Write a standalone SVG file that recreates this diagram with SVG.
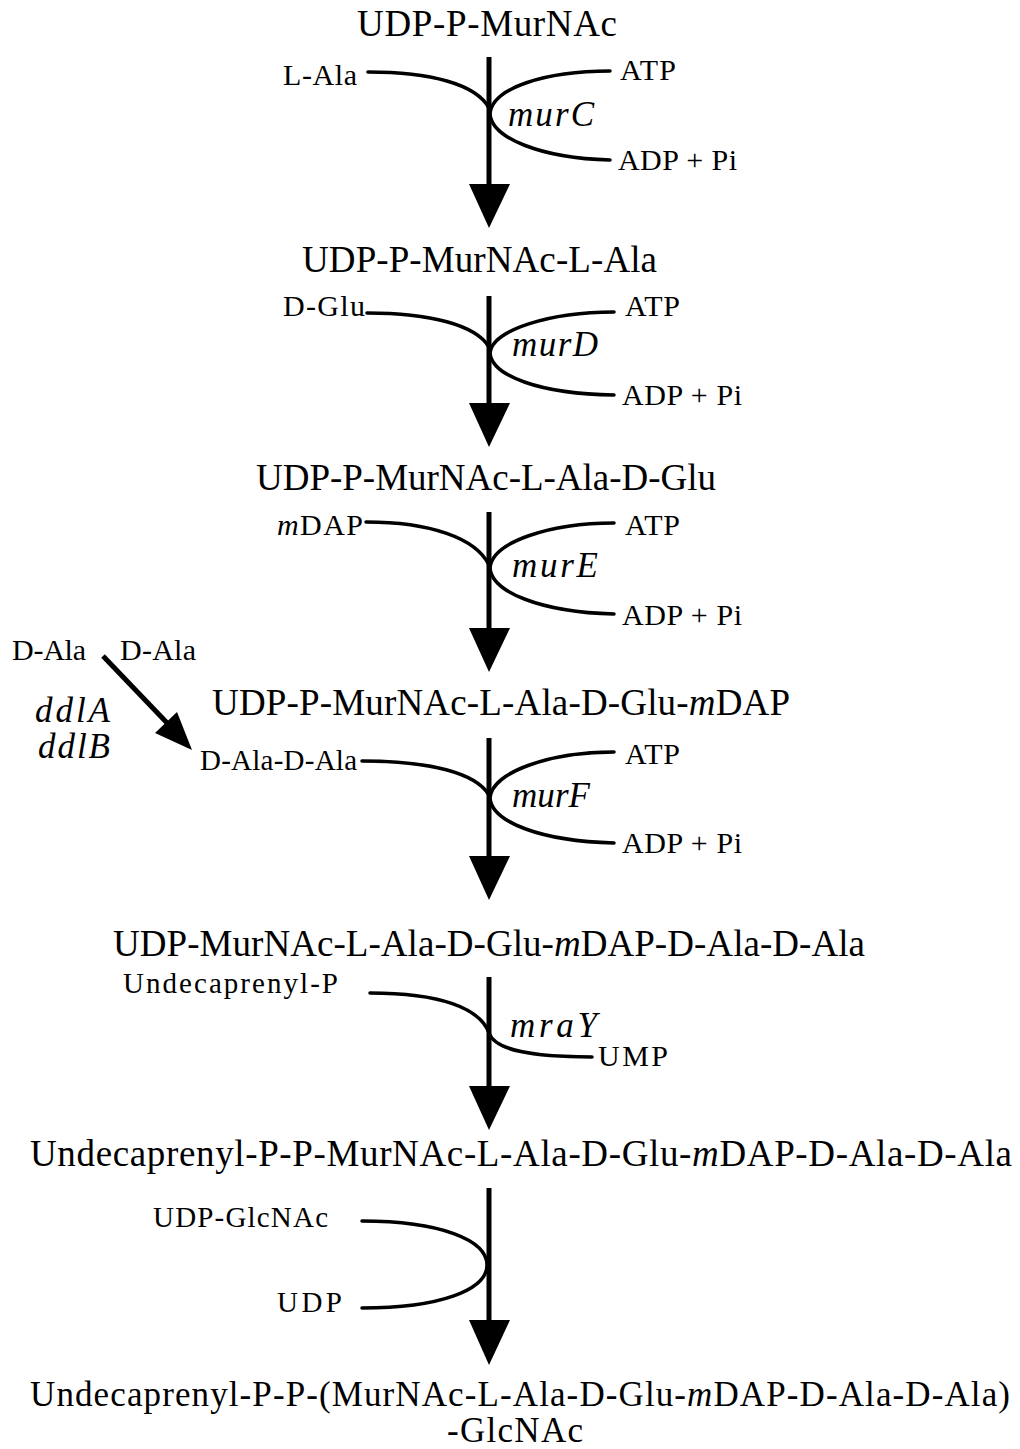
<svg xmlns="http://www.w3.org/2000/svg" width="1020" height="1449" viewBox="0 0 1020 1449">
<style>
text{font-family:"Liberation Serif","Times New Roman",serif;fill:#000}
.t{font-size:37px}
.b{font-size:35px}
.l{font-size:30px}
.s{font-size:29px}
.e{font-size:35px;font-style:italic}
.i{font-style:italic}
.stem{stroke:#000;stroke-width:5;fill:none}
.c{stroke:#000;stroke-width:3.5;fill:none;stroke-linecap:round}
.h{fill:#000}
</style>
<rect width="1020" height="1449" fill="#fff"/>
<g id="compounds">
<g id="n1"><text class="t" x="357" y="36" textLength="260">UDP-P-MurNAc</text></g>
<g id="n2"><text class="t" x="302" y="272" textLength="355">UDP-P-MurNAc-L-Ala</text></g>
<g id="n3"><text class="t" x="256" y="490" textLength="460">UDP-P-MurNAc-L-Ala-D-Glu</text></g>
<g id="n4"><text class="t" x="212" y="715" textLength="578">UDP-P-MurNAc-L-Ala-D-Glu-<tspan class="i">m</tspan>DAP</text></g>
<g id="n5"><text class="t" x="113" y="956" textLength="752">UDP-MurNAc-L-Ala-D-Glu-<tspan class="i">m</tspan>DAP-D-Ala-D-Ala</text></g>
<g id="n6"><text class="t" x="30" y="1166" textLength="982">Undecaprenyl-P-P-MurNAc-L-Ala-D-Glu-<tspan class="i">m</tspan>DAP-D-Ala-D-Ala</text></g>
<g id="n7"><text class="b" x="30" y="1406" textLength="980">Undecaprenyl-P-P-(MurNAc-L-Ala-D-Glu-<tspan class="i">m</tspan>DAP-D-Ala-D-Ala)</text><text class="b" x="447" y="1442" textLength="136">-GlcNAc</text></g>
</g>
<g id="cofactors">
<g id="r1"><text class="l" x="283" y="85" textLength="74">L-Ala</text><text class="l" x="620" y="80" textLength="56">ATP</text><text class="l" x="618" y="170" textLength="119">ADP + Pi</text><text class="e" x="508" y="126" textLength="86">murC</text></g>
<g id="r2"><text class="l" x="283" y="316" textLength="82">D-Glu</text><text class="l" x="625" y="316" textLength="55">ATP</text><text class="l" x="622" y="405" textLength="120">ADP + Pi</text><text class="e" x="512" y="356" textLength="86">murD</text></g>
<g id="r3"><text class="l" x="277" y="535" textLength="86"><tspan class="i">m</tspan>DAP</text><text class="l" x="625" y="535" textLength="55">ATP</text><text class="l" x="622" y="625" textLength="120">ADP + Pi</text><text class="e" x="512" y="577" textLength="86">murE</text></g>
<g id="r4"><text class="s" x="200" y="770" textLength="157">D-Ala-D-Ala</text><text class="l" x="625" y="764" textLength="55">ATP</text><text class="l" x="622" y="853" textLength="120">ADP + Pi</text><text class="e" x="512" y="807" textLength="78">murF</text></g>
<g id="ddl"><text class="l" x="12" y="660" textLength="74">D-Ala</text><text class="l" x="120" y="660" textLength="76">D-Ala</text><text class="e" x="35" y="722" textLength="75">ddlA</text><text class="e" x="38" y="758" textLength="72">ddlB</text></g>
<g id="r5"><text class="s" x="123" y="993" textLength="215">Undecaprenyl-P</text><text class="e" x="510" y="1037" textLength="87">mraY</text><text class="l" x="598" y="1066" textLength="70">UMP</text></g>
<g id="r6"><text class="s" x="153" y="1227" textLength="175">UDP-GlcNAc</text><text class="s" x="277" y="1312" textLength="65">UDP</text></g>
</g>
<g id="connectors">
<path class="stem" d="M489,57V188"/>
<polygon class="h" points="469,184 510,184 489,228"/>
<path class="c" d="M368,72 C430,72 476,84 489,108"/>
<path class="c" d="M610,71 C545,71 492,88 490,114 C492,138 540,158 610,160"/>

<path class="stem" d="M489,296V407"/>
<polygon class="h" points="469,403 510,403 489,447"/>
<path class="c" d="M367,313 C430,313 476,325 489,347"/>
<path class="c" d="M614,312 C550,312 492,330 490,353 C492,376 540,394 614,395"/>

<path class="stem" d="M489,512V632"/>
<polygon class="h" points="469,628 510,628 489,672"/>
<path class="c" d="M366,522 C430,522 476,538 489,565"/>
<path class="c" d="M614,523 C550,523 492,542 490,568 C492,592 540,612 614,614"/>

<path class="stem" d="M489,738V860"/>
<polygon class="h" points="469,856 510,856 489,900"/>
<path class="c" d="M362,761 C430,761 476,773 489,795"/>
<path class="c" d="M614,752 C550,752 492,772 490,798 C492,822 540,841 614,843"/>

<path class="stem" d="M103,656L170,726"/>
<polygon class="h" points="192,750 155,733 177,712"/>

<path class="stem" d="M489,977V1090"/>
<polygon class="h" points="469,1086 510,1086 489,1130"/>
<path class="c" d="M370,993 C440,993 480,1008 489,1033"/>
<path class="c" d="M489,1033 C495,1050 530,1057 592,1057"/>

<path class="stem" d="M489,1188V1324"/>
<polygon class="h" points="469,1320 510,1320 489,1365"/>
<path class="c" d="M362,1221 C440,1221 487,1240 487,1265 C487,1290 440,1308 362,1308"/>
</g>
</svg>
